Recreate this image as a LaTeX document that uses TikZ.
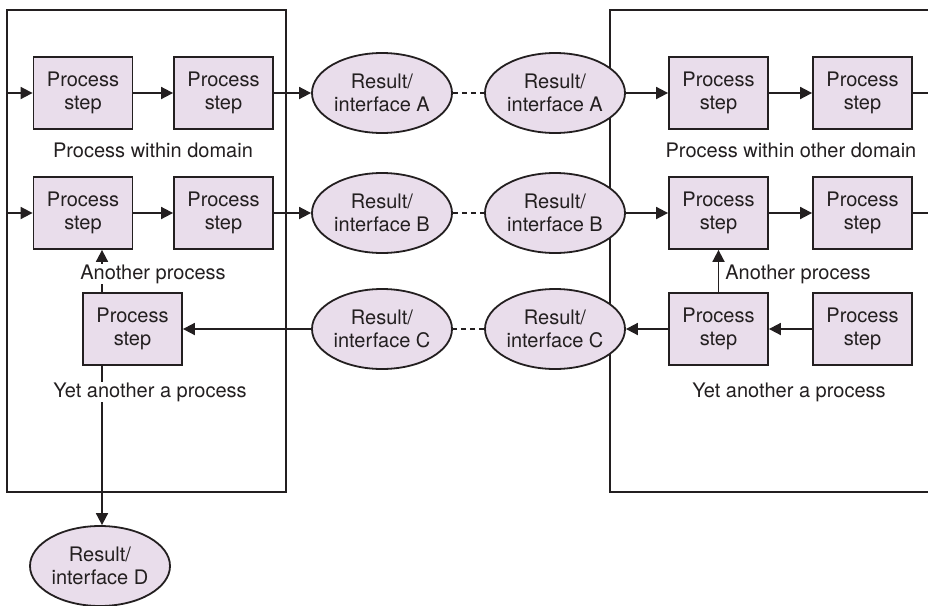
\documentclass[tikz,border=0pt]{standalone}
\usepackage{fontspec}
\setmainfont{TeX Gyre Heros}
\usetikzlibrary{arrows.meta,shapes.geometric}
\definecolor{lilac}{RGB}{233,221,235}
\definecolor{ink}{RGB}{35,31,32}
\tikzset{
STEP/.style ={draw=ink,fill=lilac,line width=0.9pt,minimum width=49.5pt,minimum height=36pt,inner sep=0pt,align=center,text=ink,font=\fontsize{10}{11.5}\selectfont},
RESULT/.style ={ellipse,draw=ink,fill=lilac,line width=0.9pt,minimum width=70pt,minimum height=40pt,inner sep=0pt,align=center,text=ink,font=\fontsize{10}{11.5}\selectfont},
FLOW/.style ={draw=ink,line width=0.9pt,-{Triangle[length=6pt,width=6pt]}},
LINK/.style ={draw=ink,line width=0.9pt,dash pattern=on 2.5pt off 2pt},
DOMAIN/.style ={draw=ink,line width=0.75pt},
CAPTION/.style ={fill=white,inner sep=0.5pt,text=ink,font=\fontsize{10}{11.5}\selectfont},
}
\begin{document}
\begin{tikzpicture}[x=0.5pt,y=-0.5pt]
	\useasboundingbox (0,0) rectangle (928,606);
	%Domains
	\path[DOMAIN] (7,10) rectangle (286,492);
	\path[DOMAIN] (928,10) -| (610,492) -- (928,492);
	\coordinate (inA) at (7,93);
	\coordinate (inB) at (7,213);
	\coordinate (outA) at (928,93);
	\coordinate (outB) at (928,213);
	\coordinate (drop) at (102,0);
	%Process steps
	\node[STEP] (p11) at (83,93) {Process\\step};
	\node[STEP] (p12) at (223.5,93) {Process\\step};
	\node[STEP] (p21) at (83,213) {Process\\step};
	\node[STEP] (p22) at (223.5,213) {Process\\step};
	\node[STEP] (p31) at (132.5,329) {Process\\step};
	\node[STEP] (q11) at (718.5,93) {Process\\step};
	\node[STEP] (q12) at (862.5,93) {Process\\step};
	\node[STEP] (q21) at (718.5,213) {Process\\step};
	\node[STEP] (q22) at (862.5,213) {Process\\step};
	\node[STEP] (q31) at (718.5,329) {Process\\step};
	\node[STEP] (q32) at (862.5,329) {Process\\step};
	%Results
	\node[RESULT] (a1) at (382,93) {Result/\\interface A};
	\node[RESULT] (a2) at (555,93) {Result/\\interface A};
	\node[RESULT] (b1) at (382,213) {Result/\\interface B};
	\node[RESULT] (b2) at (555,213) {Result/\\interface B};
	\node[RESULT] (c1) at (382,329) {Result/\\interface C};
	\node[RESULT] (c2) at (555,329) {Result/\\interface C};
	\node[RESULT] (d) at (100,566) {Result/\\interface D};
	%Flows
	\path[FLOW] (inA) -- (p11);
	\path[FLOW] (p11) -- (p12);
	\path[FLOW] (p12) -- (a1);
	\path[LINK] (a1) -- (a2);
	\path[FLOW] (a2) -- (q11);
	\path[FLOW] (q11) -- (q12);
	\path[FLOW,-] (q12) -- (outA);
	\path[FLOW] (inB) -- (p21);
	\path[FLOW] (p21) -- (p22);
	\path[FLOW] (p22) -- (b1);
	\path[LINK] (b1) -- (b2);
	\path[FLOW] (b2) -- (q21);
	\path[FLOW] (q21) -- (q22);
	\path[FLOW,-] (q22) -- (outB);
	\path[FLOW] (q32) -- (q31);
	\path[FLOW] (q31) -- (c2);
	\path[LINK] (c2) -- (c1);
	\path[FLOW] (c1) -- (p31);
	\path[FLOW] (q31) -- (q21);
	\path[FLOW] (p31.north -| drop) -- (p21.south -| drop);
	\path[FLOW] (p31.south -| drop) -- (d.north -| drop);
	%Captions
	\node[CAPTION] (capA) at (153,150) {Process within domain};
	\node[CAPTION] (capB) at (791,150) {Process within other domain};
	\node[CAPTION] (capC) at (153,274) {Another process};
	\node[CAPTION] (capD) at (798,274) {Another process};
	\node[CAPTION] (capE) at (150,392) {Yet another a process};
	\node[CAPTION] (capF) at (789,392) {Yet another a process};
\end{tikzpicture}
\end{document}
